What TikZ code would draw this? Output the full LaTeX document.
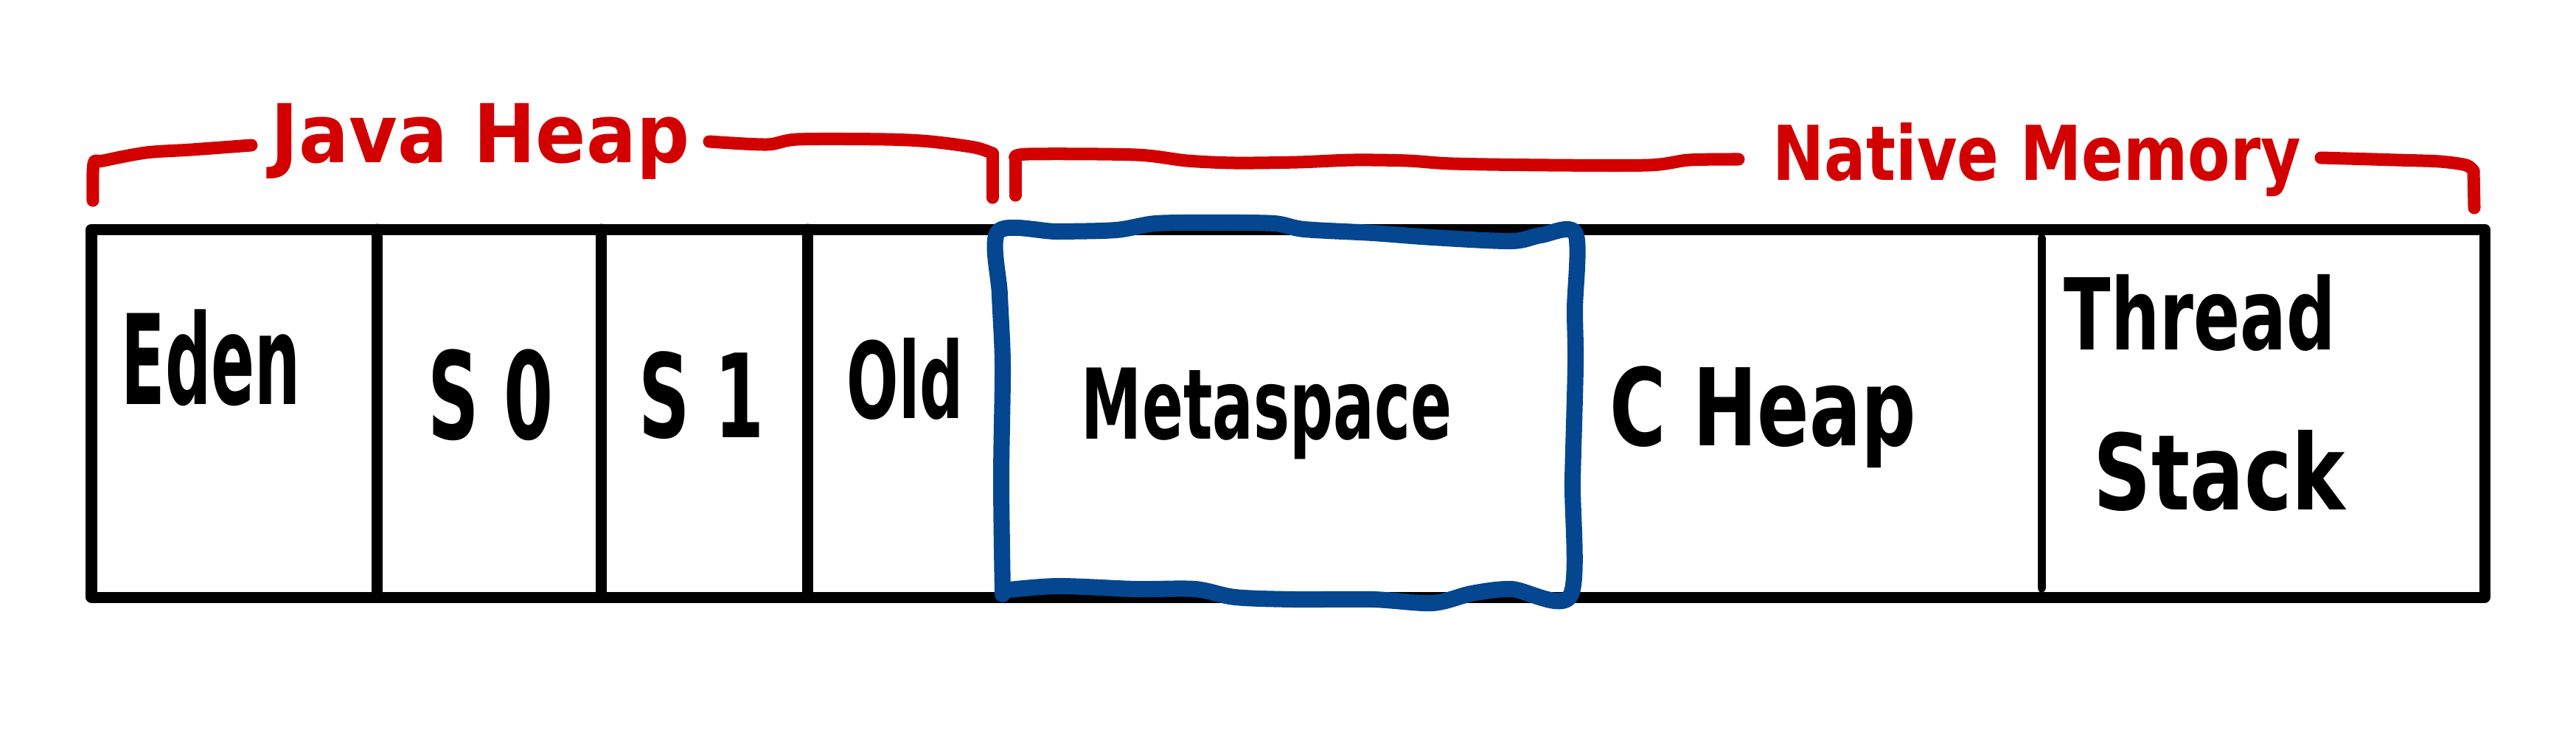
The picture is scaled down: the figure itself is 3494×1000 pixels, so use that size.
\documentclass[tikz,border=0pt]{standalone}
\usepackage{fontspec}
\setmainfont{DejaVu Sans}
\usepackage{graphicx}
\definecolor{jred}{RGB}{211,0,0}
\definecolor{mblue}{RGB}{4,70,143}
\newcommand\hw[3]{\resizebox*{#1cm}{#2cm}{\bfseries #3}}
\begin{document}
\begin{tikzpicture}[x=0.01cm,y=-0.01cm,
  blk/.style={draw=black,line width=0.15cm,line join=round,line cap=round},
  redline/.style={draw=jred,line width=0.17cm,line cap=round,line join=round},
  blueline/.style={draw=mblue,line width=0.22cm,line cap=round,line join=round},
  lbl/.style={inner sep=0pt,outer sep=0pt,text=black},
  rlbl/.style={inner sep=0pt,outer sep=0pt,text=jred}]
\useasboundingbox (0,0) rectangle (3494,1000);
\fill[white] (0,0) rectangle (3494,1000);

% main memory bar
\coordinate (tl) at (124,311);
\coordinate (br) at (3370,810);
\draw[blk] (tl) rectangle (br);
\draw[blk] (511,311) -- (511,810);
\draw[blk] (815,311) -- (815,810);
\draw[blk] (1095,311) -- (1095,810);
\draw[blk,line width=0.11cm] (2769,323) -- (2769,798);

% metaspace (blue hand-drawn box)
\draw[blueline] plot[smooth,tension=0.5] coordinates {
  (1360,806) (1358,650) (1360,495) (1356,400) (1354,314)
  (1434,314) (1514,312) (1568,303) (1648,302) (1728,303) (1769,311)
  (1862,316) (1943,322) (2050,327) (2090,319) (2137,317)
  (2136,420) (2137,495) (2133,650) (2130,808)
  (2050,799) (1996,805) (1943,818) (1862,813) (1755,813) (1675,810)
  (1621,799) (1541,799) (1434,795) (1360,801)};

% red brackets
\draw[redline] plot[smooth,tension=0.5] coordinates {
  (126,272) (127,222) (140,218) (198,207) (260,203) (341,197)};
\draw[redline] plot[smooth,tension=0.5] coordinates {
  (962,192) (1040,196) (1082,189) (1200,189) (1262,192) (1322,200) (1346,208)};
\draw[redline] (1346,208) -- (1346,268);
\draw[redline] (1377,265) -- (1377,214);
\draw[redline] plot[smooth,tension=0.5] coordinates {
  (1377,214) (1395,209) (1541,210) (1610,218) (1675,221) (1760,220)
  (1836,217) (1910,218) (1970,222) (2100,224) (2237,224) (2291,217) (2358,216)};
\draw[redline] plot[smooth,tension=0.5] coordinates {
  (3148,214) (3250,217) (3309,219) (3345,224) (3355,232)};
\draw[redline] (3355,232) -- (3356,282);

% labels
\node[rlbl] (java) at (651.5,191.5) {\hw{5.67}{1.03}{Java Heap}};
\node[rlbl] (native) at (2763,217) {\hw{7.16}{1.00}{Native Memory}};
\node[lbl] (eden) at (286.5,485.5) {\hw{2.43}{1.31}{Eden}};
\node[lbl] (s0) at (666,536) {\hw{1.70}{1.24}{S 0}};
\node[lbl] (s1) at (952,536.5) {\hw{1.70}{1.19}{S 1}};
\node[lbl] (old) at (1228,513.5) {\hw{1.58}{1.11}{Old}};
\node[lbl] (meta) at (1718,561) {\hw{5.02}{1.24}{Metaspace}};
\node[lbl] (cheap) at (2391.5,566) {\hw{4.15}{1.38}{C Heap}};
\node[lbl] (thread) at (2984,424) {\hw{3.68}{1.04}{Thread}};
\node[lbl] (stack) at (3010.5,638) {\hw{3.41}{1.10}{Stack}};
\end{tikzpicture}
\end{document}
